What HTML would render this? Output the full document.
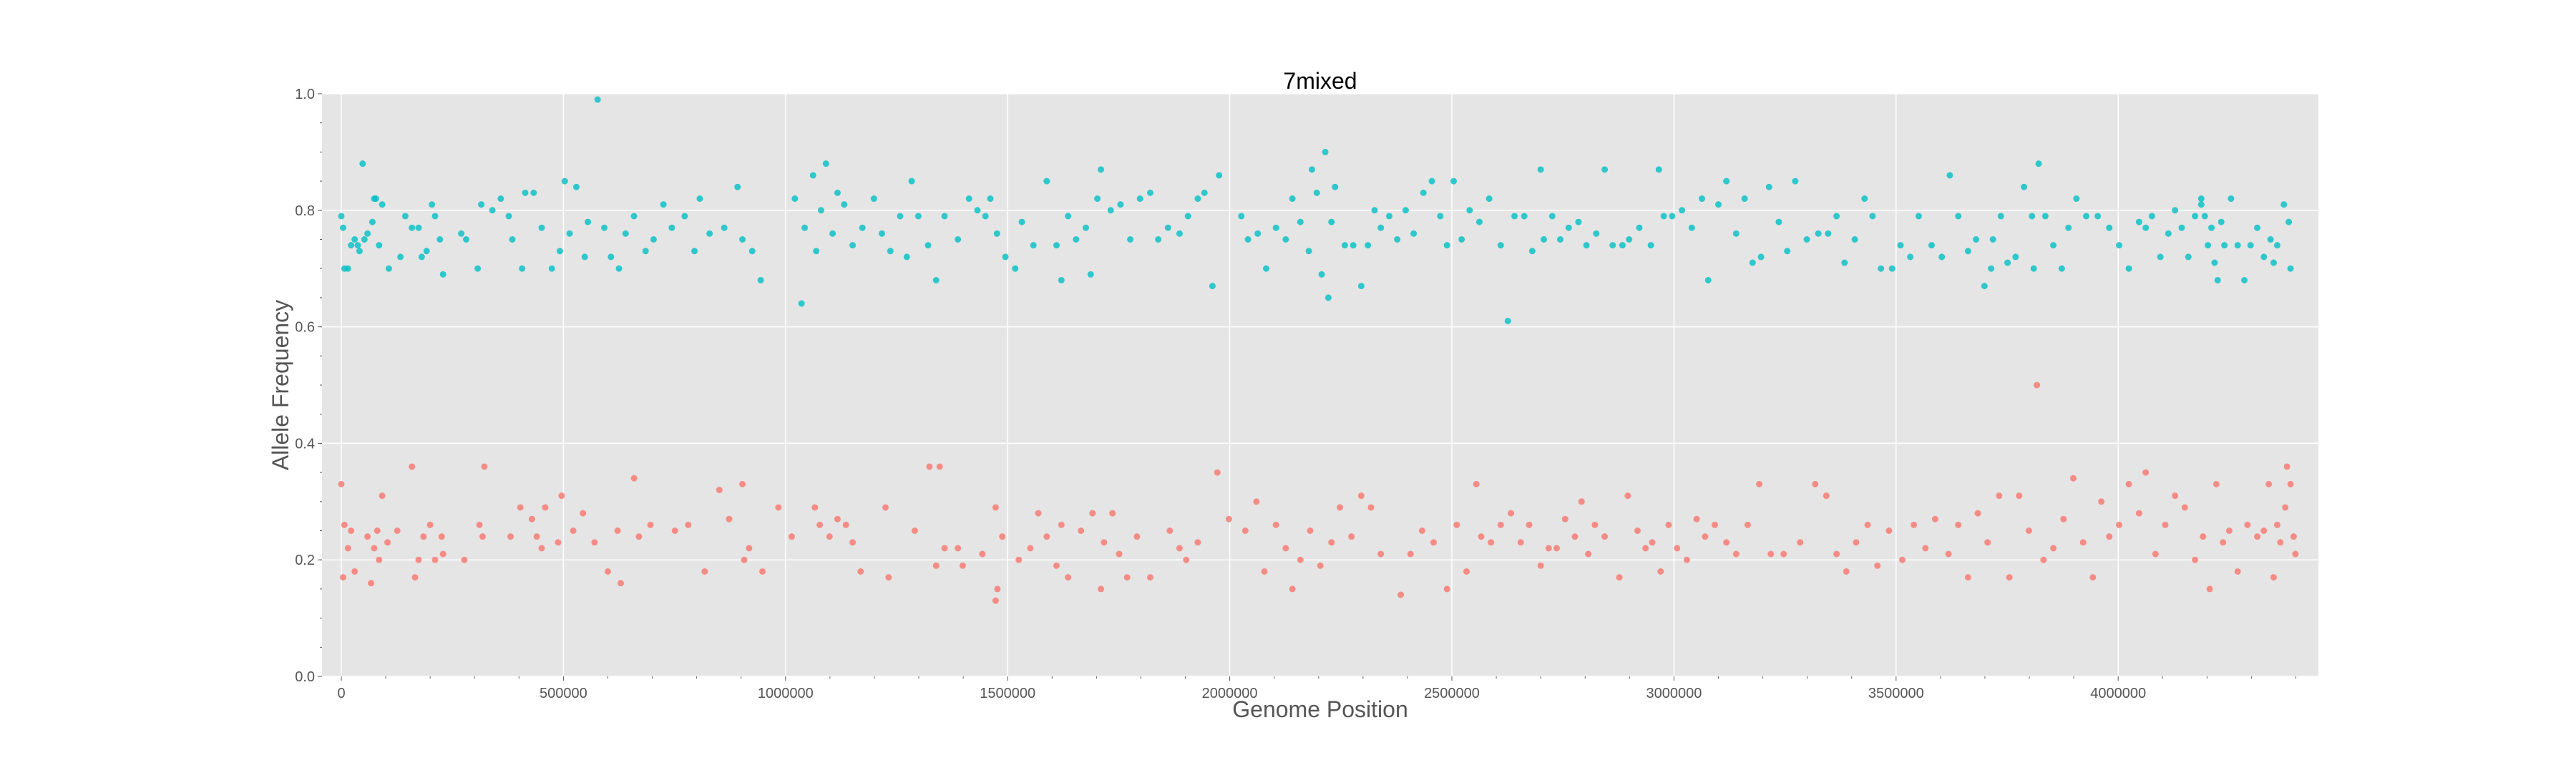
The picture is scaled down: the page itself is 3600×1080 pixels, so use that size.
<!DOCTYPE html>
<html><head><meta charset="utf-8"><style>
html,body{margin:0;padding:0;background:#fff;}
svg{display:block;font-family:"Liberation Sans",sans-serif;}
</style></head><body>
<svg id="chart" width="3600" height="1080" viewBox="0 0 3600 1080" xmlns="http://www.w3.org/2000/svg">
<rect x="450" y="131" width="2790" height="814" fill="#e5e5e5"/>
<g id="grid"></g>
<g id="ticks"></g>
<g id="pts"></g>
<text x="1845" y="124" font-size="32" text-anchor="middle" fill="#000">7mixed</text>
<text x="1845" y="1002" font-size="32" text-anchor="middle" fill="#555">Genome Position</text>
<text transform="translate(403,538) rotate(-90)" font-size="32" text-anchor="middle" fill="#555">Allele Frequency</text>
</svg>
<script>
const xTicks=[0,500000,1000000,1500000,2000000,2500000,3000000,3500000,4000000];
const yTicks=[0,0.2,0.4,0.6,0.8,1.0];
const yTickLabels=["0.0","0.2","0.4","0.6","0.8","1.0"];
// major allele (teal): positions in kb, frequencies
const tealPos=[0,4,7,15,22,30,37,41,48,52,59,70,74,78,85,92,107,133,144,159,174,181,192,204,211,222,229,270,281,307,315,340,359,377,385,407,414,433,451,474,492,503,514,529,548,555,577,592,607,625,640,659,685,703,725,744,773,795,807,829,862,892,903,925,944,1021,1036,1043,1062,1069,1080,1091,1106,1117,1132,1151,1173,1199,1217,1236,1258,1273,1284,1299,1321,1339,1358,1388,1413,1432,1450,1461,1476,1495,1517,1532,1558,1588,1610,1621,1636,1654,1676,1687,1702,1710,1732,1754,1776,1798,1821,1839,1861,1887,1906,1928,1943,1961,1976,2026,2041,2063,2082,2104,2126,2141,2159,2178,2185,2196,2207,2215,2222,2229,2237,2259,2278,2296,2311,2326,2340,2359,2377,2396,2414,2436,2455,2474,2489,2504,2522,2540,2562,2584,2610,2626,2641,2663,2681,2700,2707,2726,2744,2763,2785,2803,2825,2844,2862,2884,2899,2922,2948,2966,2977,2996,3018,3040,3063,3077,3100,3118,3140,3159,3177,3196,3214,3236,3255,3273,3299,3325,3347,3366,3384,3407,3429,3447,3466,3491,3510,3532,3551,3580,3603,3621,3640,3662,3680,3699,3718,3736,3751,3769,3788,3806,3821,3836,3854,3873,3888,3906,3928,3954,3980,4002,4024,4047,4062,4076,4095,4113,4128,4143,4158,4173,4187,4195,4202,4210,4217,4224,4232,4239,4254,4269,4284,4298,4313,4328,4343,4358,4373,4384,4388,4350,4187,3714,3810];
const tealFreq=[0.79,0.77,0.70,0.70,0.74,0.75,0.74,0.73,0.88,0.75,0.76,0.78,0.82,0.82,0.74,0.81,0.70,0.72,0.79,0.77,0.77,0.72,0.73,0.81,0.79,0.75,0.69,0.76,0.75,0.70,0.81,0.80,0.82,0.79,0.75,0.70,0.83,0.83,0.77,0.70,0.73,0.85,0.76,0.84,0.72,0.78,0.99,0.77,0.72,0.70,0.76,0.79,0.73,0.75,0.81,0.77,0.79,0.73,0.82,0.76,0.77,0.84,0.75,0.73,0.68,0.82,0.64,0.77,0.86,0.73,0.80,0.88,0.76,0.83,0.81,0.74,0.77,0.82,0.76,0.73,0.79,0.72,0.85,0.79,0.74,0.68,0.79,0.75,0.82,0.80,0.79,0.82,0.76,0.72,0.70,0.78,0.74,0.85,0.74,0.68,0.79,0.75,0.77,0.69,0.82,0.87,0.80,0.81,0.75,0.82,0.83,0.75,0.77,0.76,0.79,0.82,0.83,0.67,0.86,0.79,0.75,0.76,0.70,0.77,0.75,0.82,0.78,0.73,0.87,0.83,0.69,0.90,0.65,0.78,0.84,0.74,0.74,0.67,0.74,0.80,0.77,0.79,0.75,0.80,0.76,0.83,0.85,0.79,0.74,0.85,0.75,0.80,0.78,0.82,0.74,0.61,0.79,0.79,0.73,0.87,0.75,0.79,0.75,0.77,0.78,0.74,0.76,0.87,0.74,0.74,0.75,0.77,0.74,0.87,0.79,0.79,0.80,0.77,0.82,0.68,0.81,0.85,0.76,0.82,0.71,0.72,0.84,0.78,0.73,0.85,0.75,0.76,0.76,0.79,0.71,0.75,0.82,0.79,0.70,0.70,0.74,0.72,0.79,0.74,0.72,0.86,0.79,0.73,0.75,0.67,0.75,0.79,0.71,0.72,0.84,0.79,0.88,0.79,0.74,0.70,0.77,0.82,0.79,0.79,0.77,0.74,0.70,0.78,0.77,0.79,0.72,0.76,0.80,0.77,0.72,0.79,0.82,0.79,0.74,0.77,0.71,0.68,0.78,0.74,0.82,0.74,0.68,0.74,0.77,0.72,0.75,0.74,0.81,0.78,0.70,0.71,0.81,0.70,0.70];
// minor allele (salmon)
const salmonPos=[0,4,7,15,22,30,59,67,74,81,85,92,104,126,159,166,174,185,200,211,226,229,277,311,318,322,381,403,429,440,451,459,488,496,522,544,570,600,622,629,659,670,696,751,781,818,851,873,903,907,918,948,984,1014,1066,1077,1099,1117,1136,1151,1169,1225,1232,1291,1324,1339,1347,1358,1388,1399,1443,1473,1477,1473,1488,1525,1551,1569,1588,1610,1621,1636,1665,1691,1710,1717,1736,1751,1769,1791,1821,1865,1887,1902,1928,1972,1998,2035,2060,2078,2104,2126,2141,2159,2181,2204,2229,2248,2274,2296,2318,2340,2385,2407,2433,2459,2489,2511,2533,2555,2566,2588,2610,2633,2655,2674,2700,2718,2736,2755,2777,2792,2807,2822,2844,2877,2896,2918,2936,2951,2970,2988,3007,3029,3051,3070,3092,3118,3140,3166,3192,3218,3247,3284,3318,3343,3366,3388,3410,3436,3458,3484,3514,3540,3566,3588,3618,3640,3662,3684,3706,3732,3755,3777,3817,3799,3832,3854,3877,3899,3921,3943,3962,3980,4002,4024,4047,4062,4084,4106,4128,4150,4173,4191,4206,4221,4236,4250,4269,4291,4313,4328,4339,4350,4365,4376,4380,4388,4395,4399,4358];
const salmonFreq=[0.33,0.17,0.26,0.22,0.25,0.18,0.24,0.16,0.22,0.25,0.20,0.31,0.23,0.25,0.36,0.17,0.20,0.24,0.26,0.20,0.24,0.21,0.20,0.26,0.24,0.36,0.24,0.29,0.27,0.24,0.22,0.29,0.23,0.31,0.25,0.28,0.23,0.18,0.25,0.16,0.34,0.24,0.26,0.25,0.26,0.18,0.32,0.27,0.33,0.20,0.22,0.18,0.29,0.24,0.29,0.26,0.24,0.27,0.26,0.23,0.18,0.29,0.17,0.25,0.36,0.19,0.36,0.22,0.22,0.19,0.21,0.29,0.15,0.13,0.24,0.20,0.22,0.28,0.24,0.19,0.26,0.17,0.25,0.28,0.15,0.23,0.28,0.21,0.17,0.24,0.17,0.25,0.22,0.20,0.23,0.35,0.27,0.25,0.30,0.18,0.26,0.22,0.15,0.20,0.25,0.19,0.23,0.29,0.24,0.31,0.29,0.21,0.14,0.21,0.25,0.23,0.15,0.26,0.18,0.33,0.24,0.23,0.26,0.28,0.23,0.26,0.19,0.22,0.22,0.27,0.24,0.30,0.21,0.26,0.24,0.17,0.31,0.25,0.22,0.23,0.18,0.26,0.22,0.20,0.27,0.24,0.26,0.23,0.21,0.26,0.33,0.21,0.21,0.23,0.33,0.31,0.21,0.18,0.23,0.26,0.19,0.25,0.20,0.26,0.22,0.27,0.21,0.26,0.17,0.28,0.23,0.31,0.17,0.31,0.50,0.25,0.20,0.22,0.27,0.34,0.23,0.17,0.30,0.24,0.26,0.33,0.28,0.35,0.21,0.26,0.31,0.29,0.20,0.24,0.15,0.33,0.23,0.25,0.18,0.26,0.24,0.25,0.33,0.17,0.23,0.29,0.36,0.33,0.24,0.21,0.26];

const NS="http://www.w3.org/2000/svg";
const X0=477, PX_PER_UNIT=310.4/500000, Y0=945, Y1=131, LEFT=450, RIGHT=3240;
function xs(v){return X0+v*PX_PER_UNIT;}
function ys(v){return Y0-(Y0-Y1)*v;}
function mk(tag,attrs,parent){const e=document.createElementNS(NS,tag);for(const k in attrs)e.setAttribute(k,attrs[k]);parent.appendChild(e);return e;}
const grid=document.getElementById('grid'), ticks=document.getElementById('ticks'), pts=document.getElementById('pts');

xTicks.forEach(t=>{
  const x=xs(t);
  const g=mk('line',{x1:x,x2:x,y1:Y1,y2:Y0,stroke:'#fff','stroke-width':1.5},grid);
  
  
  const tk=mk('line',{x1:x,x2:x,y1:Y0,y2:Y0+6,stroke:'#555','stroke-width':1},ticks);
  
  
  const lb=mk('text',{x:x,y:Y0+30,'font-size':20,'text-anchor':'middle',fill:'#555'},ticks);
  lb.textContent=String(t);
  
  
});
for(let m=100000;m<=4400000;m+=100000){
  if(m%500000===0)continue;
  const x=xs(m); if(x>RIGHT)break;
  const tk=mk('line',{x1:x,x2:x,y1:Y0,y2:Y0+3,stroke:'#555','stroke-width':1},ticks);
  
  
}
yTicks.forEach((t,i)=>{
  const y=ys(t);
  const g=mk('line',{x1:LEFT,x2:RIGHT,y1:y,y2:y,stroke:'#fff','stroke-width':1.5},grid);
  
  
  const tk=mk('line',{x1:LEFT-6,x2:LEFT,y1:y,y2:y,stroke:'#555','stroke-width':1},ticks);
  
  
  const lb=mk('text',{x:LEFT-10,y:y+7,'font-size':20,'text-anchor':'end',fill:'#555'},ticks);
  lb.textContent=yTickLabels[i];
  
  
});
for(let m=0.05;m<1;m+=0.05){
  const y=ys(m);
  const tk=mk('line',{x1:LEFT-3,x2:LEFT,y1:y,y2:y,stroke:'#555','stroke-width':1},ticks);
  
  
}
tealPos.forEach((p,i)=>{
  const c=mk('circle',{cx:xs(p*1000),cy:ys(tealFreq[i]),r:4.5,fill:'#00bfc4','fill-opacity':0.8},pts);
  
  
});
salmonPos.forEach((p,i)=>{
  const c=mk('circle',{cx:xs(p*1000),cy:ys(salmonFreq[i]),r:4.5,fill:'#f8766d','fill-opacity':0.8},pts);
  
  
});
</script>
</body></html>
